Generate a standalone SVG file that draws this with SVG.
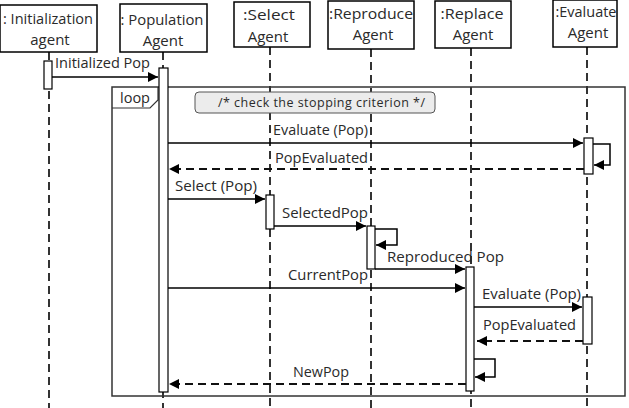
<svg xmlns="http://www.w3.org/2000/svg" width="629" height="408" viewBox="0 0 629 408">
<defs>
<marker id="ah" viewBox="0 0 10 10" refX="10" refY="5" markerWidth="10" markerHeight="10" markerUnits="userSpaceOnUse" orient="auto">
<path d="M0,0 L10,5 L0,10 z" fill="#000"/>
</marker>
</defs>
<style>
text{font-family:"Open Sans","Liberation Sans",sans-serif;fill:#2a2a2a}
.hd{font-size:15px;text-anchor:middle}
.lb{font-size:14.5px}
.box{fill:#fff;stroke:#000;stroke-width:1.5}
.life{stroke:#333;stroke-width:2;stroke-dasharray:8,5;fill:none}
.act{fill:#fff;stroke:#000;stroke-width:1.2}
.msg{stroke:#000;stroke-width:1.5;fill:none;marker-end:url(#ah)}
.ret{stroke:#111;stroke-width:2;stroke-dasharray:8,5;fill:none;marker-end:url(#ah)}
.self{stroke:#000;stroke-width:1.5;fill:none;marker-end:url(#ah)}
</style>
<rect width="629" height="408" fill="#fff"/>

<g id="lifelines">
<line class="life" x1="49" y1="52" x2="49" y2="408"/>
<line class="life" x1="163" y1="52" x2="163" y2="408"/>
<line class="life" x1="270" y1="47" x2="270" y2="408"/>
<line class="life" x1="371" y1="49" x2="371" y2="408"/>
<line class="life" x1="471" y1="48" x2="471" y2="408"/>
<line class="life" x1="587" y1="47" x2="587" y2="408"/>
</g>

<g id="loop">
<rect x="112" y="87" width="513" height="309" fill="none" stroke="#333" stroke-width="1.5"/>
<path d="M112,108 L150,108 L158,100 L158,87" fill="none" stroke="#333" stroke-width="1.2"/>
<text class="lb" x="120" y="103" textLength="30" lengthAdjust="spacingAndGlyphs">loop</text>
<rect x="195" y="92" width="240" height="21" rx="4" fill="#ececec" stroke="#555" stroke-width="1"/>
<text x="218" y="107" style="font-size:12.5px" textLength="207" lengthAdjust="spacing">/* check the stopping criterion */</text>
</g>

<g id="n_init">
<rect class="box" x="0" y="5" width="97" height="47"/>
<text class="hd" x="48" y="24" textLength="90" lengthAdjust="spacingAndGlyphs">: Initialization</text>
<text class="hd" x="50" y="45">agent</text>
</g>
<g id="n_pop">
<rect class="box" x="120" y="4" width="87" height="48"/>
<text class="hd" x="162" y="25" textLength="83" lengthAdjust="spacingAndGlyphs">: Population</text>
<text class="hd" x="163" y="46">Agent</text>
</g>
<g id="n_select">
<rect class="box" x="234" y="2" width="76" height="45"/>
<text class="hd" x="269" y="20" textLength="52" lengthAdjust="spacingAndGlyphs">:Select</text>
<text class="hd" x="268" y="42">Agent</text>
</g>
<g id="n_repro">
<rect class="box" x="328" y="1" width="86" height="48"/>
<text class="hd" x="371" y="19" textLength="84" lengthAdjust="spacingAndGlyphs">:Reproduce</text>
<text class="hd" x="373" y="40">Agent</text>
</g>
<g id="n_replace">
<rect class="box" x="435" y="1" width="76" height="47"/>
<text class="hd" x="472" y="19" textLength="63" lengthAdjust="spacingAndGlyphs">:Replace</text>
<text class="hd" x="473" y="40">Agent</text>
</g>
<g id="n_eval">
<rect class="box" x="553" y="0" width="64" height="47"/>
<text class="hd" x="586" y="17" textLength="61" lengthAdjust="spacingAndGlyphs">:Evaluate</text>
<text class="hd" x="588" y="38">Agent</text>
</g>

<g id="activations">
<rect class="act" x="44" y="61" width="8" height="28"/>
<rect class="act" x="159" y="68" width="9" height="324"/>
<rect class="act" x="584" y="138" width="9" height="36"/>
<rect class="act" x="266" y="195" width="8" height="34"/>
<rect class="act" x="367" y="226" width="8" height="43"/>
<rect class="act" x="466" y="267" width="8" height="124"/>
<rect class="act" x="583" y="297" width="9" height="47"/>
</g>

<g id="connectors">
<line class="msg" x1="52" y1="77" x2="158" y2="77"/>
<line class="msg" x1="168" y1="143" x2="583" y2="143"/>
<path class="self" d="M593,144 H610 V165 H594"/>
<line class="ret" x1="584" y1="169" x2="169" y2="169"/>
<line class="msg" x1="168" y1="199" x2="265" y2="199"/>
<line class="msg" x1="274" y1="226" x2="366" y2="226"/>
<path class="self" d="M375,229 H397 V245 H376"/>
<line class="msg" x1="375" y1="269" x2="465" y2="269"/>
<line class="msg" x1="168" y1="288" x2="465" y2="288"/>
<line class="msg" x1="474" y1="307" x2="582" y2="307"/>
<line class="ret" x1="583" y1="341" x2="477" y2="341"/>
<path class="self" d="M474,359 H495 V377 H475"/>
<line class="ret" x1="466" y1="384" x2="169" y2="384"/>
</g>

<g id="labels">
<text class="lb" x="55" y="68" textLength="95" lengthAdjust="spacingAndGlyphs">Initialized Pop</text>
<text class="lb" x="273" y="135" textLength="95" lengthAdjust="spacingAndGlyphs">Evaluate (Pop)</text>
<text class="lb" x="275" y="163" textLength="93" lengthAdjust="spacingAndGlyphs">PopEvaluated</text>
<text class="lb" x="175" y="191" textLength="82" lengthAdjust="spacingAndGlyphs">Select (Pop)</text>
<text class="lb" x="282" y="218" textLength="86" lengthAdjust="spacingAndGlyphs">SelectedPop</text>
<text class="lb" x="387" y="262" textLength="117" lengthAdjust="spacingAndGlyphs">Reproduced Pop</text>
<text class="lb" x="288" y="280" textLength="80" lengthAdjust="spacingAndGlyphs">CurrentPop</text>
<text class="lb" x="482" y="299" textLength="99" lengthAdjust="spacingAndGlyphs">Evaluate (Pop)</text>
<text class="lb" x="483" y="330" textLength="93" lengthAdjust="spacingAndGlyphs">PopEvaluated</text>
<text class="lb" x="293" y="377" textLength="56" lengthAdjust="spacingAndGlyphs">NewPop</text>
</g>
</svg>
